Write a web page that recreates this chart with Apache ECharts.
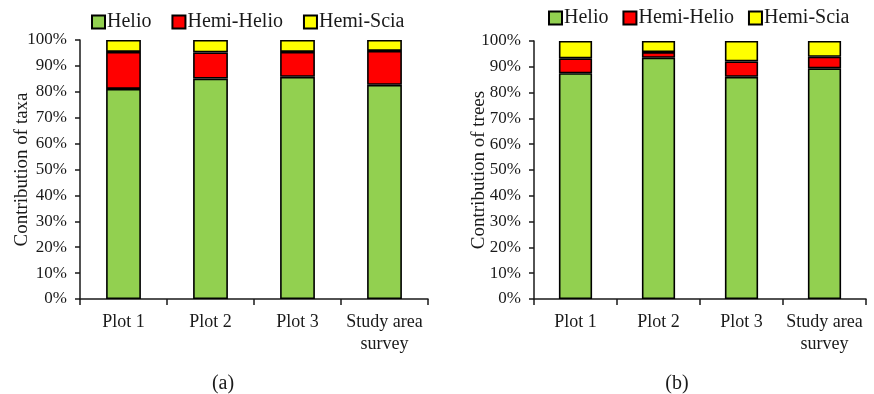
<!DOCTYPE html>
<html>
<head>
<meta charset="utf-8">
<script src="https://cdn.jsdelivr.net/npm/echarts@6/dist/echarts.min.js"></script>
<style>
  html, body { margin: 0; padding: 0; background: #fff; }
  #chart { width: 874px; height: 394px; }
</style>
</head>
<body>
<div id="chart"></div>
<script>
// Categories shared by both panels
const categories = ['Plot 1', 'Plot 2', 'Plot 3', 'Study area\nsurvey'];
const groupNames = ['Helio', 'Hemi-Helio', 'Hemi-Scia'];

// Panel (a): share of taxa per light-requirement group (%)
const taxaHelio = [81.1, 85.1, 85.8, 82.7];
const taxaHemiHelio = [14.3, 10.1, 9.6, 13.1];
const taxaHemiScia = [4.6, 4.8, 4.6, 4.2];

// Panel (b): share of trees per light-requirement group (%)
const treesHelio = [87.5, 93.5, 86.1, 89.4];
const treesHemiHelio = [5.8, 2.2, 6.0, 4.5];
const treesHemiScia = [6.7, 4.3, 7.9, 6.1];

const groupColors = ['#92D050', '#FF0000', '#FFFF00'];
const FONT = '"Liberation Serif", "DejaVu Serif", serif';
const INK = '#1a1a1a';

function xAxisFor(gridIndex) {
  return {
    type: 'category',
    gridIndex: gridIndex,
    data: categories,
    boundaryGap: true,
    axisLine: { lineStyle: { color: INK, width: 1.5 } },
    axisTick: { show: true, interval: 0, length: 6, lineStyle: { color: INK, width: 1.5 } },
    axisLabel: {
      interval: 0, color: INK, fontFamily: FONT, fontSize: 18,
      lineHeight: 22, margin: 12
    }
  };
}

function yAxisFor(gridIndex, title, gap) {
  return {
    type: 'value',
    gridIndex: gridIndex,
    min: 0, max: 100, interval: 10,
    name: title,
    nameLocation: 'middle',
    nameGap: gap,
    nameMoveOverlap: false,
    nameTextStyle: { color: INK, fontFamily: FONT, fontSize: 19 },
    axisLine: { show: true, lineStyle: { color: INK, width: 1.5 } },
    axisTick: { show: true, length: 5, lineStyle: { color: INK, width: 1.5 } },
    splitLine: { show: false },
    axisLabel: { color: INK, fontFamily: FONT, fontSize: 17, margin: 13, formatter: '{value}%' }
  };
}

function seriesFor(gridIndex, stackKey, values) {
  return values.map((vals, i) => ({
    name: groupNames[i],
    type: 'bar',
    stack: stackKey,
    xAxisIndex: gridIndex,
    yAxisIndex: gridIndex,
    barWidth: '40%',
    data: vals,
    itemStyle: { color: groupColors[i], borderColor: '#000', borderWidth: 1.6 },
    emphasis: { disabled: true }
  }));
}

const legendBase = {
  data: groupNames,
  icon: 'rect',
  itemWidth: 13,
  itemHeight: 13,
  textStyle: { color: INK, fontFamily: FONT, fontSize: 20, padding: [0, 0, 0, -3] }
};

const chart = echarts.init(document.getElementById('chart'));
chart.setOption({
  animation: false,
  backgroundColor: '#fff',
  title: [
    { text: '(a)', left: 218, top: 369, textAlign: 'center',
      textStyle: { color: INK, fontFamily: FONT, fontSize: 20, fontWeight: 'normal' } },
    { text: '(b)', left: 672, top: 369, textAlign: 'center',
      textStyle: { color: INK, fontFamily: FONT, fontSize: 20, fontWeight: 'normal' } }
  ],
  legend: [
    Object.assign({}, legendBase, { left: 86, top: 7, itemGap: 20 }),
    Object.assign({}, legendBase, { left: 543, top: 3, itemGap: 14 })
  ],
  grid: [
    { left: 80, right: 446, top: 40, bottom: 95 },
    { left: 534, right: 8, top: 41, bottom: 95 }
  ],
  xAxis: [xAxisFor(0), xAxisFor(1)],
  yAxis: [
    yAxisFor(0, 'Contribution of taxa', 48),
    yAxisFor(1, 'Contribution of trees', 45)
  ],
  series: [
    ...seriesFor(0, 'taxa', [taxaHelio, taxaHemiHelio, taxaHemiScia]),
    ...seriesFor(1, 'trees', [treesHelio, treesHemiHelio, treesHemiScia])
  ]
});
</script>
</body>
</html>
